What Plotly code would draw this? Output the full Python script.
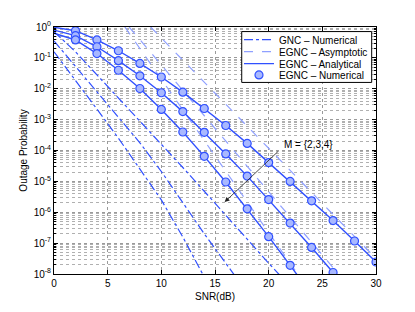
import plotly.graph_objects as go

# ---------------- data ----------------
snr_egnc2 = [0, 2, 4, 6, 8, 10, 12, 14, 16, 18, 20, 22, 24, 26, 28, 30]
pout_egnc2 = [0.977, 0.759, 0.380, 0.170, 0.0661, 0.0240, 7.76e-3, 2.29e-3, 6.46e-4,
              1.70e-4, 4.07e-5, 1.0e-5, 2.34e-6, 5.37e-7, 1.17e-7, 2.45e-8]

snr_egnc3 = [0, 2, 4, 6, 8, 10, 12, 14, 16, 18, 20, 22, 24, 26, 28]
pout_egnc3 = [0.794, 0.525, 0.229, 0.0813, 0.0263, 7.41e-3, 1.82e-3, 3.89e-4, 7.76e-5,
              1.48e-5, 2.57e-6, 4.47e-7, 7.24e-8, 1.12e-8, 1.6e-9]

snr_egnc4 = [0, 2, 4, 6, 8, 10, 12, 14, 16, 18, 20, 22, 24]
pout_egnc4 = [0.631, 0.380, 0.138, 0.0398, 0.0102, 2.14e-3, 3.98e-4, 6.46e-5, 9.55e-6,
              1.29e-6, 1.62e-7, 1.91e-8, 2.2e-9]

# numerical markers (every 2 dB from 2 dB)
snr_num2 = snr_egnc2[1:]
pout_num2 = pout_egnc2[1:]
snr_num3 = snr_egnc3[1:14]
pout_num3 = pout_egnc3[1:14]
snr_num4 = snr_egnc4[1:12]
pout_num4 = pout_egnc4[1:12]

# EGNC asymptotic (straight lines on the log scale)
snr_asym2 = [9.0, 30.0]
pout_asym2 = [1.0, 3.16e-8]
snr_asym3 = [7.0, 26.5]
pout_asym3 = [1.0, 1.0e-8]
snr_asym4 = [6.6, 22.7]
pout_asym4 = [1.0, 1.0e-8]

# GNC numerical
snr_gnc = [0, 2, 4, 6, 8, 10, 12, 14, 16, 18, 20, 22]
pout_gnc2 = [0.71, 0.158, 0.0282, 5.0e-3, 8.9e-4, 1.66e-4, 2.82e-5, 4.79e-6, 7.94e-7,
             1.26e-7, 2.24e-8, 3.98e-9]
pout_gnc3 = [0.355, 0.0537, 7.94e-3, 1.20e-3, 1.78e-4, 2.09e-5, 2.0e-6, 2.0e-7, 2.24e-8,
             2.5e-9, None, None]
pout_gnc4 = [0.158, 0.0191, 2.19e-3, 2.51e-4, 2.40e-5, 2.51e-6, 1.58e-7, 7.94e-9, None,
             None, None, None]

x_ticks = [0, 5, 10, 15, 20, 25, 30]
y_ticks = [1, 1e-1, 1e-2, 1e-3, 1e-4, 1e-5, 1e-6, 1e-7, 1e-8]
y_ticklabels = ["10<sup>0</sup>", "10<sup>-1</sup>", "10<sup>-2</sup>", "10<sup>-3</sup>",
                "10<sup>-4</sup>", "10<sup>-5</sup>", "10<sup>-6</sup>", "10<sup>-7</sup>",
                "10<sup>-8</sup>"]
y_minor = [m * 10.0 ** (-e) for e in range(1, 9) for m in range(2, 10)]

legend_names = ["GNC – Numerical", "EGNC – Asymptotic", "EGNC – Analytical", "EGNC – Numerical"]
annotation_text = "M = {2,3,4}"

# ---------------- styles ----------------
BLUE = "#3050ff"
LIGHT = "#8fa0ff"
FILL = "#a8b8ff"
FONT = "Liberation Sans, Arial, Helvetica, sans-serif"

fig = go.Figure()

gnc_sets = [pout_gnc2, pout_gnc3, pout_gnc4]
for i, p in enumerate(gnc_sets):
    fig.add_trace(go.Scatter(x=snr_gnc, y=p, mode="lines", name=legend_names[0],
                             line=dict(color=BLUE, width=1.2, dash="dashdot"),
                             showlegend=(i == 0), legend="legend", connectgaps=False))

asym_sets = [(snr_asym2, pout_asym2), (snr_asym3, pout_asym3), (snr_asym4, pout_asym4)]
for i, (x, p) in enumerate(asym_sets):
    fig.add_trace(go.Scatter(x=x, y=p, mode="lines", name=legend_names[1],
                             line=dict(color=LIGHT, width=1.2, dash="dash"),
                             showlegend=(i == 0), legend="legend2"))

an_sets = [(snr_egnc2, pout_egnc2), (snr_egnc3, pout_egnc3), (snr_egnc4, pout_egnc4)]
for i, (x, p) in enumerate(an_sets):
    fig.add_trace(go.Scatter(x=x, y=p, mode="lines", name=legend_names[2],
                             line=dict(color=BLUE, width=1.4),
                             showlegend=(i == 0), legend="legend3"))

num_sets = [(snr_num2, pout_num2), (snr_num3, pout_num3), (snr_num4, pout_num4)]
for i, (x, p) in enumerate(num_sets):
    fig.add_trace(go.Scatter(x=x, y=p, mode="markers", name=legend_names[3],
                             marker=dict(symbol="circle", size=8, color=FILL,
                                         line=dict(color=BLUE, width=1.2)),
                             showlegend=(i == 0), legend="legend4"))

fig.add_annotation(x=15.9, y=-5.67, ax=21.0, ay=-3.99, xref="x", yref="y",
                   axref="x", ayref="y", text="", showarrow=True,
                   arrowhead=2, arrowsize=1.2, arrowwidth=0.8, arrowcolor="#222")
fig.add_annotation(x=21.2, y=-3.8, xref="x", yref="y", text=annotation_text,
                   showarrow=False, xanchor="left", yanchor="middle",
                   font=dict(size=10, color="black", family=FONT))

# legend frame (white box with black border) behind the legend entries
fig.add_shape(type="rect", xref="paper", yref="paper", x0=0.583, x1=0.9866,
              y0=0.7756, y1=0.9815, fillcolor="white",
              line=dict(color="black", width=1), layer="above")

axis_common = dict(showline=True, linecolor="black", linewidth=1, mirror="allticks",
                   ticks="inside", ticklen=4, tickcolor="black",
                   showgrid=True, gridcolor="#9a9a9a", griddash="dot", gridwidth=1,
                   zeroline=False, tickfont=dict(size=10, color="black", family=FONT))

fig.update_xaxes(range=[0, 30], tickmode="array", tickvals=x_ticks,
                 title=dict(text="SNR(dB)", font=dict(size=10, color="black", family=FONT),
                            standoff=4),
                 **axis_common)
fig.update_yaxes(type="log", range=[-8, 0], tickmode="array", tickvals=y_ticks,
                 ticktext=y_ticklabels,
                 title=dict(text="Outage Probability",
                            font=dict(size=10, color="black", family=FONT), standoff=4),
                 minor=dict(tickmode="array", tickvals=y_minor, ticks="inside", ticklen=2,
                            tickcolor="black", showgrid=True, gridcolor="#b0b0b0",
                            griddash="dot", gridwidth=1),
                 **axis_common)

leg_common = dict(x=0.5745, xanchor="left", yanchor="middle",
                  bgcolor="rgba(0,0,0,0)", borderwidth=0,
                  font=dict(size=10, family=FONT, color="black"), itemwidth=30)

# the page body adds an 8px offset, so the figure is sized to fit the window
fig.update_layout(
    width=407, height=304,
    margin=dict(l=46, r=39, t=15, b=35),
    paper_bgcolor="white", plot_bgcolor="white",
    font=dict(family=FONT, size=10, color="black"),
    legend=dict(y=0.9488, **leg_common),
    legend2=dict(y=0.9004, **leg_common),
    legend3=dict(y=0.8516, **leg_common),
    legend4=dict(y=0.8059, **leg_common),
)

fig.write_html("out.html")
